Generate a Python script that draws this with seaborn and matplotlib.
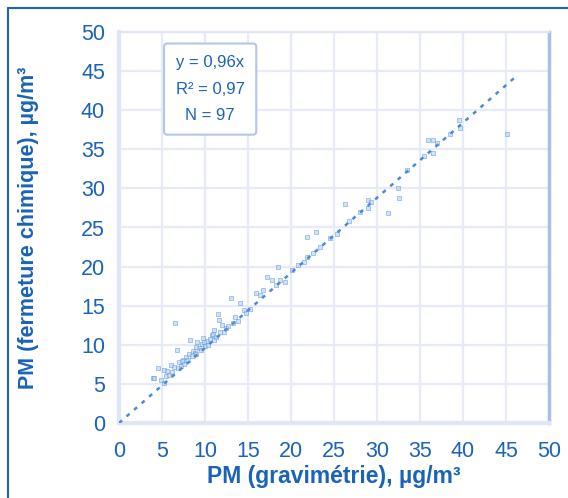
import seaborn as sns
import matplotlib.pyplot as plt
import matplotlib.lines as mlines
import pandas as pd
import numpy as np

# --- Estilo ---
sns.set_theme(style="whitegrid")
plt.rcParams['font.family'] = ['Liberation Sans', 'DejaVu Sans']

azul = '#1a63b8'

# --- Datos ---
pm_gravimetrie = [3.9, 4.1, 4.5, 4.9, 5.2, 5.2, 5.5, 5.8, 6.0, 6.2, 6.4, 6.5, 6.8, 6.9, 7.0,
                  7.2, 7.4, 7.6, 7.8, 8.0, 8.1, 8.3, 8.5, 8.6, 8.8, 9.0, 9.1, 9.3, 9.5, 9.7,
                  9.8, 10.0, 10.2, 10.4, 10.6, 10.8, 11.0, 11.1, 11.3, 11.5, 11.6, 11.8, 12.0, 12.2, 12.4,
                  12.7, 13.0, 13.2, 13.5, 13.8, 14.1, 14.5, 14.8, 15.2, 15.9, 16.4, 16.8, 17.2, 17.8, 18.2,
                  18.5, 18.75, 19.3, 20.1, 20.8, 21.5, 21.9, 21.9, 22.6, 22.9, 23.4, 24.5, 25.3, 26.3, 26.8,
                  28.0, 28.9, 28.9, 29.3, 31.3, 32.4, 32.5, 33.5, 35.5, 35.9, 36.5, 36.5, 37.0, 38.5, 39.5,
                  39.6, 45.1, 7.3, 8.9, 10.9, 5.6, 9.9]
pm_chimique = [5.7, 5.8, 7.0, 5.5, 5.1, 6.8, 6.0, 6.2, 7.4, 6.5, 7.2, 12.8, 9.3, 7.0, 7.8,
               7.3, 8.1, 7.6, 8.4, 8.0, 8.8, 10.6, 8.6, 9.2, 9.0, 8.8, 10.4, 9.6, 9.3, 10.1,
               10.9, 9.8, 10.5, 10.0, 10.8, 11.3, 11.9, 10.6, 11.0, 14.0, 13.2, 11.6, 12.5, 11.7, 12.1,
               12.4, 16.0, 12.8, 13.6, 13.0, 15.3, 14.4, 14.1, 14.6, 16.6, 16.4, 17.0, 18.7, 18.3, 17.6,
               19.9, 18.3, 18.0, 19.6, 20.2, 20.6, 21.2, 23.8, 21.7, 24.4, 22.5, 23.6, 24.2, 28.0, 25.8,
               27.0, 27.5, 28.5, 28.2, 26.9, 30.0, 28.8, 32.3, 34.2, 36.2, 36.2, 34.5, 35.8, 37.0, 38.7,
               37.7, 37.0, 7.9, 9.7, 11.4, 6.6, 10.3]

pente = 0.96
x_droite = [0, 46]
texte_stats = "y = 0,96x\nR² = 0,97\nN = 97"

df = pd.DataFrame({'grav': pm_gravimetrie, 'chim': pm_chimique})

# --- Figura ---
fig = plt.figure(figsize=(5.68, 4.98), dpi=100)
ax = fig.add_axes([119 / 568, 1 - 423 / 498, 430 / 568, 391 / 498])

# Nube de puntos
sns.scatterplot(data=df, x='grav', y='chim', ax=ax, marker='s', s=10,
                color='#b4d0f2', edgecolor='#5d9ae0', linewidth=0.6, alpha=0.6, zorder=3)

# Recta de regresión (discontinua)
ax.plot(x_droite, [pente * v for v in x_droite], color='#4a8ad6', lw=1.8,
        linestyle=(0, (1.6, 2.4)), zorder=4)

# Ejes
ax.set_xlim(0, 50)
ax.set_ylim(0, 50)
ax.set_xticks(range(0, 51, 5))
ax.set_yticks(range(0, 51, 5))
ax.grid(True, color='#e7ebf7', lw=1.6)
ax.tick_params(axis='both', colors='#d6def3', labelcolor=azul, labelsize=15.5,
               length=4, width=1.5, direction='out', pad=6)
ax.tick_params(axis='x', pad=9)

for lado in ['left', 'bottom', 'top']:
    ax.spines[lado].set_color('#dfe6f6')
    ax.spines[lado].set_linewidth(3)
ax.spines['top'].set_linewidth(1.5)
ax.spines['right'].set_color('#a9bfe6')
ax.spines['right'].set_linewidth(2.5)

ax.set_xlabel('PM (gravimétrie), µg/m³', color=azul, fontsize=16.5, fontweight='bold', labelpad=2)
ax.set_ylabel('PM (fermeture chimique), µg/m³', color=azul, fontsize=15.5, fontweight='bold', labelpad=30)

# Cuadro de estadísticas
ax.text(10.6, 42.7, texte_stats, ha='center', va='center', color=azul, fontsize=12,
        linespacing=1.95, zorder=5,
        bbox=dict(boxstyle='round,pad=0.7,rounding_size=0.2', fc='white', ec='#b3c6ea', lw=1.5))

# Marco de la figura (izquierda y arriba)
fig.add_artist(mlines.Line2D([8 / 568, 8 / 568], [0, 1 - 8 / 498], color=azul, lw=1.5))
fig.add_artist(mlines.Line2D([8 / 568, 1], [1 - 8 / 498, 1 - 8 / 498], color=azul, lw=1.5))

fig.savefig('out.png', dpi=100)
